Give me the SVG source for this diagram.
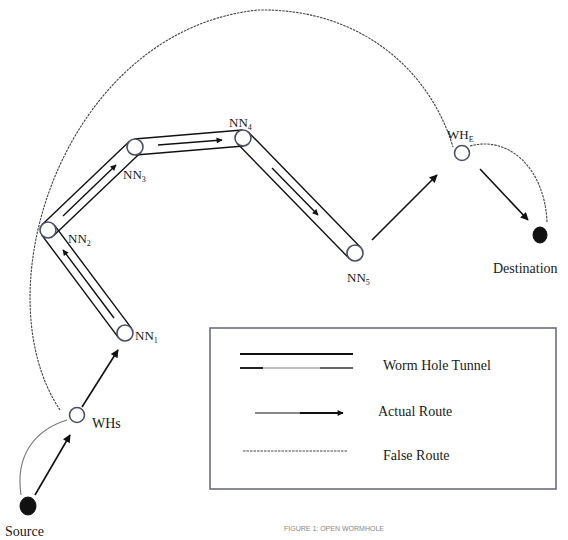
<svg xmlns="http://www.w3.org/2000/svg" width="568" height="540" viewBox="0 0 568 540">
<defs>
<style>
.lbl{font-family:"Liberation Serif","Times New Roman",serif;font-size:13px;fill:#1a1a1a}
.big{font-family:"Liberation Serif","Times New Roman",serif;font-size:14px;fill:#1a1a1a}
.node{fill:#ffffff;stroke:#4b5068;stroke-width:1.6}
.solid{fill:#111;stroke:#111}
.tun{stroke:#111;stroke-width:1.4;fill:none}
.arr{stroke:#111;stroke-width:1.6;fill:none;marker-end:url(#ah)}
.iarr{stroke:#111;stroke-width:1.4;fill:none;marker-end:url(#ah2)}
.dash{stroke:#444;stroke-width:1.1;fill:none;stroke-dasharray:2.5 1}
.thin{stroke:#777;stroke-width:1.1;fill:none}
</style>
<marker id="ah" viewBox="0 0 10 10" refX="9" refY="5" markerWidth="10" markerHeight="8" markerUnits="userSpaceOnUse" orient="auto"><path d="M0,0 L10,5 L0,10 z" fill="#111"/></marker>
<marker id="ah2" viewBox="0 0 10 10" refX="9" refY="5" markerWidth="8" markerHeight="6" markerUnits="userSpaceOnUse" orient="auto"><path d="M0,0 L10,5 L0,10 z" fill="#111"/></marker>
</defs>
<rect width="568" height="540" fill="#ffffff"/>
<g id="connectors">
<path class="dash" d="M60,410 C -20,290 65,30 258,10 C 360,8 430,70 453,147"/>
<path class="dash" d="M470,146 C 510,135 545,170 547,222"/>
<path class="thin" d="M21,495 C 15,455 35,430 67,420"/>
<line class="tun" x1="131.4" y1="328.2" x2="54.4" y2="225.2"/>
<line class="tun" x1="118.6" y1="337.8" x2="41.6" y2="234.8"/>
<line class="tun" x1="53.5" y1="235.8" x2="140.5" y2="152.8"/>
<line class="tun" x1="42.5" y1="224.2" x2="129.5" y2="141.2"/>
<line class="tun" x1="135.7" y1="155" x2="243.7" y2="146"/>
<line class="tun" x1="134.3" y1="139" x2="242.3" y2="130"/>
<line class="tun" x1="237.3" y1="143.6" x2="349.3" y2="258.6"/>
<line class="tun" x1="248.7" y1="132.4" x2="360.7" y2="247.4"/>
<line class="iarr" x1="114" y1="318" x2="63" y2="250"/>
<line class="iarr" x1="63" y1="216" x2="116" y2="165"/>
<line class="iarr" x1="158" y1="145" x2="222" y2="140"/>
<line class="iarr" x1="272" y1="168" x2="318" y2="215"/>
<line class="arr" x1="35" y1="495" x2="70" y2="435"/>
<line class="arr" x1="82" y1="407" x2="118" y2="350"/>
<line class="arr" x1="372" y1="240" x2="437" y2="175"/>
<line class="arr" x1="480" y1="169" x2="528" y2="220"/>
</g>
<g id="source">
<ellipse class="solid" cx="28" cy="506" rx="8" ry="9"/>
<text class="big" x="5" y="536">Source</text>
</g>
<g id="whs">
<circle class="node" cx="77" cy="415" r="7.5"/>
<text class="big" x="92" y="428">WHs</text>
</g>
<g id="nn1">
<circle class="node" cx="125" cy="333" r="8"/>
<text class="lbl" x="135" y="340">NN<tspan font-size="8" dy="3">1</tspan></text>
</g>
<g id="nn2">
<circle class="node" cx="48" cy="230" r="8"/>
<text class="lbl" x="68" y="243">NN<tspan font-size="8" dy="3">2</tspan></text>
</g>
<g id="nn3">
<circle class="node" cx="135" cy="147" r="8"/>
<text class="lbl" x="123" y="179">NN<tspan font-size="8" dy="3">3</tspan></text>
</g>
<g id="nn4">
<circle class="node" cx="243" cy="138" r="8"/>
<text class="lbl" x="229" y="127">NN<tspan font-size="8" dy="3">4</tspan></text>
</g>
<g id="nn5">
<circle class="node" cx="355" cy="253" r="8"/>
<text class="lbl" x="347" y="282">NN<tspan font-size="8" dy="3">5</tspan></text>
</g>
<g id="whe">
<circle class="node" cx="462" cy="153" r="7.5"/>
<text class="lbl" x="447" y="139">WH<tspan font-size="8" dy="3">E</tspan></text>
</g>
<g id="destination">
<ellipse class="solid" cx="540" cy="235" rx="7" ry="8"/>
<text class="big" x="493" y="273">Destination</text>
</g>
<g id="legend">
<rect x="210" y="328" width="346" height="161" fill="none" stroke="#6a6f7a" stroke-width="1.6"/>
<line x1="240" y1="354" x2="353" y2="354" stroke="#111" stroke-width="2"/>
<line x1="240" y1="368" x2="263" y2="368" stroke="#222" stroke-width="2"/>
<line x1="263" y1="368" x2="320" y2="368" stroke="#aaa" stroke-width="1.5"/>
<line x1="320" y1="368" x2="353" y2="368" stroke="#666" stroke-width="2"/>
<text class="big" x="383" y="370">Worm Hole Tunnel</text>
<line x1="255" y1="413" x2="300" y2="413" stroke="#888" stroke-width="2"/>
<line x1="300" y1="413" x2="343" y2="413" stroke="#111" stroke-width="2" marker-end="url(#ah2)"/>
<text class="big" x="378" y="416">Actual Route</text>
<line class="dash" x1="243" y1="451" x2="348" y2="451"/>
<text class="big" x="383" y="460">False Route</text>
</g>
<text x="284" y="531" font-family="Liberation Sans, Arial, sans-serif" font-size="7" fill="#888">FIGURE 1: OPEN WORMHOLE</text>
</svg>
